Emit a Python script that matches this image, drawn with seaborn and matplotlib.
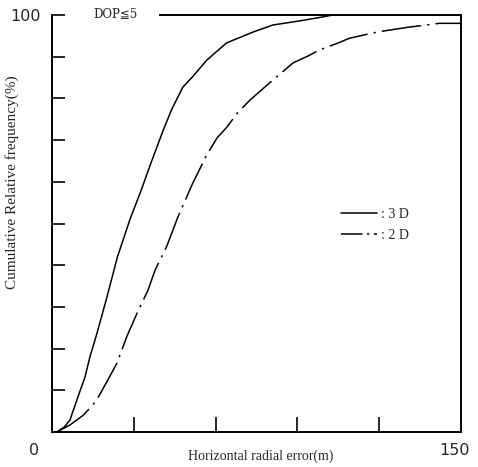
import pandas as pd
import matplotlib
matplotlib.use("Agg")
import matplotlib.pyplot as plt
from matplotlib.lines import Line2D
import seaborn as sns

# curve values (x in m, y in %)
x_3d = [1.8, 4.5, 6.6, 9.5, 12.1, 13.9, 16.5, 20, 24, 28.6, 33, 36, 40.8,
        44, 48, 51.3, 56.8, 64, 73.7, 81, 91, 99, 103, 150]
y_3d = [0, 1.2, 2.9, 8.4, 13.2, 18, 23.7, 32, 42, 51, 58.5, 64, 72.4,
        77.5, 82.7, 85, 89.2, 93.3, 95.9, 97.6, 98.6, 99.5, 100, 100]

x_2d = [1.8, 6.6, 11.4, 15, 17, 20.5, 23.8, 27.5, 31.2, 35.2, 37.8, 42, 46.2,
        51.5, 56.8, 60.5, 64, 68, 72.6, 81, 88.4, 94, 98, 105, 109, 115,
        120, 130, 142, 150]
y_2d = [0, 1.7, 4, 6.5, 8.4, 12.5, 16.5, 23, 28.5, 34, 38.8, 44.4, 51.6,
        59.5, 66.5, 70.5, 73, 76.5, 79.6, 84.4, 88.5, 90.2, 91.6, 93.3, 94.4,
        95.3, 96, 97, 98, 98]

labels = [": 3 D", ": 2 D"]
y_ticks = list(range(10, 101, 10))
x_ticks = [30, 60, 90, 120]

sns.set_style("ticks")
plt.rcParams["font.family"] = ["Liberation Serif", "DejaVu Sans"]

dashdot = (0, (26, 4, 1.5, 4))

fig = plt.figure(figsize=(4.78, 4.67), dpi=100)
ax = fig.add_axes([0.1088, 0.0749, 0.8556, 0.893])

df3 = pd.DataFrame({"x": x_3d, "y": y_3d})
df2 = pd.DataFrame({"x": x_2d, "y": y_2d})
sns.lineplot(data=df3, x="x", y="y", ax=ax, color="black", lw=1.1,
             estimator=None, sort=False)
sns.lineplot(data=df2, x="x", y="y", ax=ax, color="black", lw=1.1,
             linestyle=dashdot, estimator=None, sort=False)

ax.set_xlim(0, 150)
ax.set_ylim(0, 100)
ax.set_xlabel("")
ax.set_ylabel("")

for s in ax.spines.values():
    s.set_linewidth(1.4)
    s.set_color("black")
ax.spines["top"].set_bounds(39.5, 150)

ax.set_yticks(y_ticks)
ax.set_yticklabels([""] * 9 + ["100"], family="DejaVu Sans", fontsize=11.5)
ax.set_xticks(x_ticks)
ax.set_xticklabels([])
ax.tick_params(axis="y", direction="in", length=9, width=1.4, pad=8)
ax.tick_params(axis="x", direction="in", length=11, width=1.4)

ax.text(-0.045, -0.045, "0", transform=ax.transAxes, ha="center", va="center",
        family="DejaVu Sans", fontsize=11.5)
ax.text(0.985, -0.045, "150", transform=ax.transAxes, ha="center", va="center",
        family="DejaVu Sans", fontsize=11.5)

ax.text(0.51, -0.058, "Horizontal radial error(m)", transform=ax.transAxes,
        ha="center", va="center", fontsize=10)
ax.text(-0.098, 0.6, "Cumulative Relative frequency(%)", transform=ax.transAxes,
        ha="center", va="center", rotation=90, fontsize=11)
ax.text(0.1, 1.0, "DOP≦5", transform=ax.transAxes, ha="left", va="center",
        fontsize=8.5, family=["DejaVu Serif", "DejaVu Sans"])

handles = [Line2D([], [], color="black", lw=1.1),
           Line2D([], [], color="black", lw=1.1, linestyle=(0, (14, 3, 1.5, 3)))]
ax.legend(handles, labels, loc="center left", bbox_to_anchor=(0.675, 0.497),
          frameon=False, handlelength=2.6, handletextpad=0.3,
          labelspacing=0.6, fontsize=10)

fig.savefig("out.png", dpi=100)
